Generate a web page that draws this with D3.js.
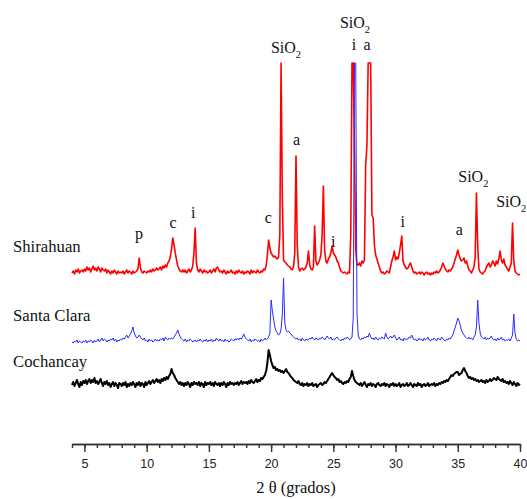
<!DOCTYPE html>
<html><head><meta charset="utf-8">
<script src="https://cdn.jsdelivr.net/npm/d3@7/dist/d3.min.js"></script>
<style>body{margin:0;background:#fff}</style>
</head><body><svg id="c" width="527" height="499"></svg>
<script>
// 2θ grid of the digitised patterns
const thetaStart = 4, thetaStep = 0.1;

// Intensities (arbitrary units above each trace's own baseline), 4.0° … 40.0°
const shirahuan = [
2,4,1,5,3,6,2,4,5,3,
6,4,8,5,7,3,6,9,5,7,
4,8,6,3,7,5,4,6,2,5,
3,1,4,2,5,3,1,4,2,3,
2,4,1,3,5,2,4,3,1,4,
2,3,4,6,17,7,3,2,4,3,
2,4,3,5,3,6,4,5,7,5,
6,8,5,9,7,10,8,12,14,18,
26,37,30,22,15,9,6,4,3,5,
3,5,2,4,6,3,5,9,22,47,
12,5,3,6,4,2,5,3,4,2,
3,5,2,4,6,3,7,8,5,3,
4,2,5,3,1,4,2,3,5,2,
3,1,4,2,5,3,2,4,1,3,
2,4,3,1,5,2,4,3,2,5,
3,2,4,3,6,5,9,20,35,27,
22,20,18,19,17,16,18,40,240,80,
15,13,12,10,9,8,6,5,8,22,
119,30,8,4,6,7,5,6,8,12,
24,10,6,5,8,49,14,10,12,15,
20,40,89,25,14,12,16,18,22,29,
22,20,18,14,12,8,4,3,2,3,
2,1,3,2,40,240,240,120,25,10,
10,12,9,14,12,15,110,130,240,240,
240,60,57,30,20,16,12,8,4,2,
3,1,2,4,3,2,8,14,18,24,
15,18,16,22,30,39,14,10,8,6,
7,10,12,8,4,2,3,1,2,3,
1,3,2,0,2,3,1,2,0,2,
1,3,2,4,2,3,5,8,12,9,
6,4,3,5,4,6,8,12,16,20,
25,20,16,14,15,17,12,14,9,5,
4,2,5,8,18,82,30,6,3,2,
1,3,4,8,10,12,8,10,14,12,
9,14,11,16,24,15,12,16,10,8,
6,4,8,12,52,14,4,2,1,0,
1];

const santaClara = [
1,0,2,1,3,0,2,1,0,2,
1,3,0,2,1,3,2,0,3,1,
2,4,1,3,5,2,4,3,1,3,
2,4,3,5,2,4,1,3,2,4,
3,5,4,6,8,5,7,9,12,16,
10,7,5,6,8,6,4,3,5,2,
3,1,4,2,3,1,2,4,2,3,
2,4,3,5,2,6,4,3,5,4,
5,4,6,8,10,13,9,6,4,3,
2,4,1,3,2,4,3,1,2,3,
1,3,2,4,2,1,3,2,4,1,
3,2,4,1,3,2,5,3,2,4,
2,3,1,4,2,3,1,2,4,3,
2,4,3,5,3,5,4,6,9,6,
4,3,2,4,1,3,2,4,3,2,
3,1,4,2,3,5,3,4,6,10,
43,32,24,16,12,10,8,9,14,28,
65,20,13,11,12,10,9,7,6,5,
4,5,3,4,2,5,3,2,4,3,
3,5,4,6,4,3,5,4,3,5,
4,6,5,3,5,7,5,4,6,3,
4,3,5,6,4,3,2,4,3,5,
4,6,5,3,4,6,25,300,300,30,
8,4,3,5,4,6,5,7,6,10,
6,4,5,3,6,4,3,5,4,6,
5,4,10,6,4,5,7,5,6,8,
5,3,4,6,3,4,2,5,3,4,
4,6,5,8,5,3,4,2,3,5,
3,4,2,5,3,4,6,3,2,4,
3,5,4,2,5,4,3,6,4,3,
2,4,3,5,4,6,8,12,16,20,
25,22,18,12,10,8,6,5,4,6,
4,5,3,6,8,16,43,20,10,6,
5,4,6,3,5,4,5,7,4,3,
4,2,5,3,4,6,3,4,2,3,
3,4,2,5,8,29,10,4,2,3,
2];

const cochancay = [
0,3,-1,2,5,1,-2,3,0,4,
2,5,1,4,6,2,5,3,7,2,
4,1,3,6,2,-1,3,1,4,0,
2,-2,1,3,-1,2,0,-3,2,1,
-1,2,0,3,-2,1,-1,2,0,3,
1,-2,2,0,3,-1,2,1,-2,3,
0,2,4,1,3,5,2,4,6,3,
5,2,6,4,7,5,8,6,9,11,
16,12,10,7,5,3,1,3,0,2,
-1,2,0,3,1,-2,2,0,3,1,
2,0,3,-1,2,1,-2,3,0,2,
1,3,0,2,-1,3,1,0,2,-1,
2,0,3,1,-2,2,0,3,1,2,
0,2,1,3,0,2,4,1,3,2,
3,1,4,2,5,3,2,4,6,3,
5,4,7,6,8,10,14,22,35,30,
24,20,17,18,15,16,14,15,13,14,
12,14,16,13,12,10,8,7,5,4,
3,2,4,1,0,2,-1,1,0,2,
-1,1,0,2,-1,0,1,-2,0,1,
2,0,1,3,2,4,6,8,10,12,
10,8,7,5,6,3,4,2,1,3,
2,4,3,6,8,14,9,5,3,2,
1,0,2,-1,1,3,0,-2,1,0,
2,-1,1,0,-2,1,2,0,-1,1,
0,2,-1,1,0,-2,1,0,2,-1,
1,-1,0,2,-2,0,1,-1,0,2,
-1,0,2,0,-2,1,0,-1,2,0,
1,-2,0,1,-1,0,2,-1,0,1,
0,2,-1,1,0,2,1,3,2,4,
3,5,4,6,8,10,9,11,12,13,
13,10,11,12,15,17,14,12,9,7,
8,6,7,5,6,4,5,3,4,5,
3,4,2,5,3,4,6,4,5,7,
6,5,8,6,5,4,6,3,4,2,
3,1,4,2,0,3,1,-1,2,0,
1];

const seriesNames = ["Shirahuan", "Santa Clara", "Cochancay"];
const seriesValues = [shirahuan, santaClara, cochancay];
const seriesOffsets = [169, 101, 59];       // vertical stacking offsets
const nameLevels = [192, 123, 77];          // level of the name labels
const seriesColors = ["#ff0000", "#2b2bff", "#000000"];
const seriesWidths = [1.6, 1, 2];

// Phase annotations
const peakLabels = ["p","c","i","c","SiO2","a","i","SiO2","i","a","i","a","SiO2","SiO2"];
const peakTheta  = [9.38,12.12,13.75,19.77,21.2,22.05,25.0,26.74,26.66,27.7,30.57,35.12,36.25,39.3];
const peakLevel  = [205,216,226,221,391,299,197,416,394,394,217,209,262,237];

const majorTicks = [5,10,15,20,25,30,35,40];
const minorTicks = d3.range(4, 41, 1);
const xLabel = "2 θ (grados)";
const yMax = 381;

const svg = d3.select("#c");
const x = d3.scaleLinear().domain([4, 40]).range([72, 520]);
const y = d3.scaleLinear().domain([0, yMax]).range([444, 63]);

const line = d3.line()
  .x(d => x(d.t))
  .y(d => y(Math.min(d.v, yMax)));

seriesValues.forEach((vals, k) => {
  const pts = vals.map((v, i) => ({t: thetaStart + i * thetaStep, v: v + seriesOffsets[k]}));
  svg.append("path")
    .datum(pts)
    .attr("d", line)
    .attr("fill", "none")
    .attr("stroke", seriesColors[k])
    .attr("stroke-width", seriesWidths[k])
    .attr("stroke-linejoin", "round");
});

// Series names
seriesNames.forEach((n, k) => {
  svg.append("text")
    .attr("x", 13)
    .attr("y", y(nameLevels[k]))
    .attr("font-family", "'Liberation Serif', 'Times New Roman', serif")
    .attr("font-size", 16.7)
    .attr("fill", "#111")
    .text(n);
});

// Peak labels
peakLabels.forEach((lab, i) => {
  const t = svg.append("text")
    .attr("x", x(peakTheta[i]))
    .attr("y", y(peakLevel[i]))
    .attr("text-anchor", "middle")
    .attr("font-family", "'Liberation Serif', 'Times New Roman', serif")
    .attr("font-size", 16)
    .attr("fill", "#111");
  if (lab === "SiO2") {
    t.append("tspan").text("SiO");
    t.append("tspan").attr("font-size", 10.5).attr("dy", 4.5).text("2");
  } else {
    t.text(lab);
  }
});

// Axis
const gMinor = svg.append("g").attr("transform", "translate(0,444)")
  .call(d3.axisBottom(x).tickValues(minorTicks).tickSize(4).tickSizeOuter(0).tickFormat(""));
const gMajor = svg.append("g").attr("transform", "translate(0,444)")
  .call(d3.axisBottom(x).tickValues(majorTicks).tickSize(8).tickSizeOuter(0).tickPadding(7.5).tickFormat(d3.format("d")));
[gMinor, gMajor].forEach(g => {
  g.selectAll("path,line").attr("stroke", "#333").attr("stroke-width", 1.4);
});
gMajor.selectAll("text")
  .attr("font-family", "'Liberation Sans', Arial, sans-serif")
  .attr("font-size", 12.5)
  .attr("fill", "#222");

svg.append("text")
  .attr("x", (x.range()[0] + x.range()[1]) / 2)
  .attr("y", 493)
  .attr("text-anchor", "middle")
  .attr("font-family", "'Liberation Serif', 'Times New Roman', serif")
  .attr("font-size", 16.5)
  .attr("fill", "#111")
  .text(xLabel);
</script>
</body></html>
